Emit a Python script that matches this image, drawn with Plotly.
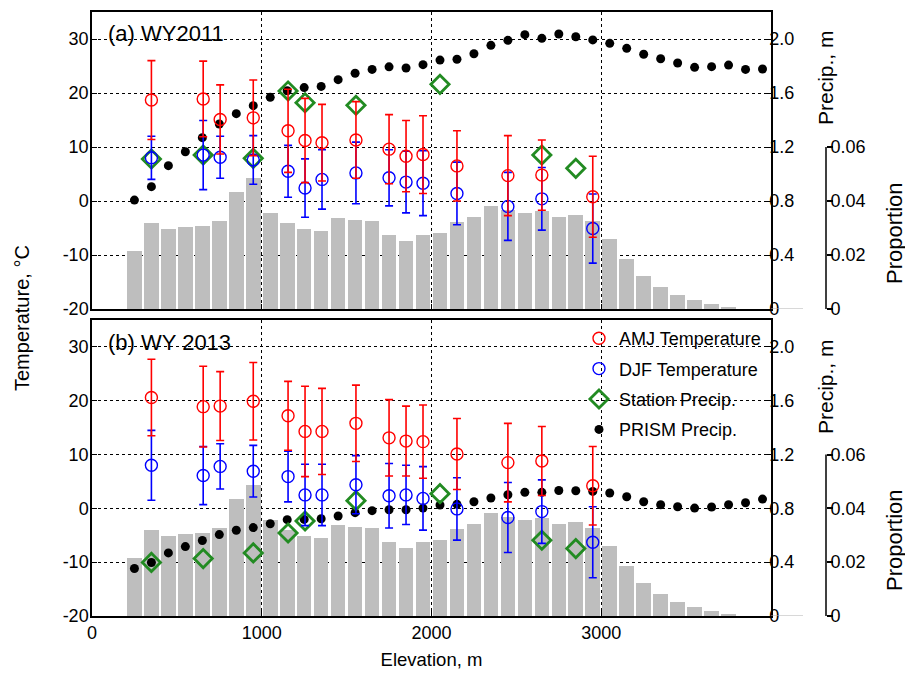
import plotly.graph_objects as go

# ---------------- data ----------------
bin_elev = [250, 350, 450, 550, 650, 750, 850, 950, 1050, 1150, 1250, 1350, 1450, 1550,
            1650, 1750, 1850, 1950, 2050, 2150, 2250, 2350, 2450, 2550, 2650, 2750, 2850,
            2950, 3050, 3150, 3250, 3350, 3450, 3550, 3650, 3750]
proportion = [0.0216, 0.032, 0.0297, 0.0304, 0.0307, 0.0327, 0.0434, 0.0486, 0.0357, 0.032,
              0.0297, 0.029, 0.0338, 0.0331, 0.0327, 0.0274, 0.0253, 0.0274, 0.0283, 0.0322,
              0.0341, 0.0381, 0.0367, 0.0357, 0.0364, 0.0341, 0.0348, 0.0327, 0.026, 0.0186,
              0.0122, 0.0083, 0.0053, 0.0034, 0.002, 0.0009]

prism_elev = [250, 350, 450, 550, 650, 750, 850, 950, 1050, 1150, 1250, 1350, 1450, 1550,
              1650, 1750, 1850, 1950, 2050, 2150, 2250, 2350, 2450, 2550, 2650, 2750, 2850,
              2950, 3050, 3150, 3250, 3350, 3450, 3550, 3650, 3750, 3850, 3950]
prism_2011 = [0.807, 0.906, 1.062, 1.165, 1.269, 1.370, 1.447, 1.506, 1.568, 1.617, 1.640,
              1.649, 1.699, 1.746, 1.775, 1.794, 1.785, 1.810, 1.844, 1.850, 1.891, 1.953,
              1.990, 2.032, 2.005, 2.037, 2.017, 1.993, 1.968, 1.931, 1.887, 1.854, 1.822,
              1.790, 1.795, 1.807, 1.775, 1.778]
prism_2013 = [0.353, 0.398, 0.469, 0.516, 0.561, 0.605, 0.637, 0.657, 0.686, 0.716, 0.718,
              0.723, 0.743, 0.768, 0.783, 0.790, 0.790, 0.802, 0.825, 0.830, 0.849, 0.877,
              0.901, 0.919, 0.919, 0.933, 0.931, 0.926, 0.914, 0.886, 0.849, 0.827, 0.812,
              0.802, 0.810, 0.827, 0.842, 0.869]

station_elev = [350, 655, 950, 1155, 1255, 1555, 2050, 2650, 2850]
station_2011 = [1.111, 1.141, 1.116, 1.615, 1.528, 1.509, 1.664, 1.141, 1.042]
station_2013 = [0.398, 0.427, 0.469, 0.617, 0.706, 0.857, 0.909, 0.563, 0.501]

temp_elev = [350, 655, 755, 950, 1155, 1255, 1355, 1555, 1750, 1850, 1950, 2150, 2450, 2650, 2950]
amj_2011 = [18.7, 18.9, 15.1, 15.4, 13.0, 11.2, 10.8, 11.3, 9.6, 8.3, 8.6, 6.5, 4.7, 4.8, 0.8]
amj_2011_err = [7.3, 7.0, 6.4, 7.0, 7.7, 7.8, 7.1, 7.1, 6.4, 6.6, 7.2, 6.5, 7.4, 6.5, 7.5]
djf_2011 = [8.0, 8.5, 8.1, 7.6, 5.5, 2.4, 4.0, 5.2, 4.3, 3.5, 3.3, 1.4, -1.0, 0.4, -5.1]
djf_2011_err = [4.0, 6.4, 3.9, 4.5, 4.8, 5.4, 5.5, 5.7, 5.2, 5.7, 6.0, 5.8, 6.3, 5.8, 6.4]
amj_2013 = [20.6, 18.9, 19.0, 19.9, 17.2, 14.3, 14.3, 15.8, 13.1, 12.5, 12.4, 10.1, 8.5, 8.8, 4.2]
amj_2013_err = [7.1, 7.5, 6.4, 7.2, 6.4, 8.4, 8.0, 7.1, 7.1, 6.5, 6.8, 6.6, 7.3, 6.4, 7.3]
djf_2013 = [8.0, 6.1, 7.8, 6.9, 5.9, 2.5, 2.5, 4.4, 2.35, 2.5, 1.85, -0.1, -1.7, -0.6, -6.3]
djf_2013_err = [6.5, 5.4, 4.2, 4.8, 4.7, 5.7, 5.7, 5.4, 6.0, 5.5, 5.9, 5.8, 6.5, 5.9, 6.6]

temp_ticks = [-20, -10, 0, 10, 20, 30]
temp_ticktext = ["-20", "-10", "0", "10", "20", "30"]
precip_ticks = [0, 0.4, 0.8, 1.2, 1.6, 2.0]
precip_ticktext = ["0", "0.4", "0.8", "1.2", "1.6", "2.0"]
prop_ticks = [0, 0.02, 0.04, 0.06]
prop_ticktext = ["0", "0.02", "0.04", "0.06"]
elev_ticks = [0, 1000, 2000, 3000]
panel_labels = ["(a) WY2011", "(b) WY 2013"]

# ---------------- style ----------------
FONT = "Liberation Sans, Arial, sans-serif"
RED, BLUE, GREEN, GRAY = "#ff0000", "#0000ff", "#228b22", "#bebebe"
OFF = 8                      # page body margin
W, H = 913 - OFF, 673 - OFF
ML = 92 - OFF
MT = 12 - OFF
MR = W - (771 - OFF)
MB = H - (616 - OFF)
PH = H - MT - MB
PW = W - ML - MR

def py(px):  # reference-page pixel y -> paper
    return (H - MB - (px - OFF)) / PH

def pxx(px):  # reference-page pixel x -> paper
    return ((px - OFF) - ML) / PW

top_dom = [py(309), 1.0]
bot_dom = [0.0, py(320)]

fig = go.Figure()

panels = [
    dict(x="x2", yp="y", ypr="y2", yt="y3", prism=prism_2011, st=station_2011,
         amj=amj_2011, amje=amj_2011_err, djf=djf_2011, djfe=djf_2011_err, legend=False),
    dict(x="x", yp="y4", ypr="y5", yt="y6", prism=prism_2013, st=station_2013,
         amj=amj_2013, amje=amj_2013_err, djf=djf_2013, djfe=djf_2013_err, legend=True),
]

for p in panels:
    fig.add_trace(go.Bar(x=bin_elev, y=proportion, width=86, marker=dict(color=GRAY, line=dict(width=0)),
                         xaxis=p["x"], yaxis=p["yp"], showlegend=False))
    fig.add_trace(go.Scatter(x=prism_elev, y=p["prism"], mode="markers", name="PRISM Precip.",
                             marker=dict(symbol="circle", size=9, color="black"),
                             xaxis=p["x"], yaxis=p["ypr"], showlegend=p["legend"],
                             legendgroup="d", legendrank=4))
    fig.add_trace(go.Scatter(x=station_elev, y=p["st"], mode="markers", name="Station Precip.",
                             marker=dict(symbol="diamond-open", size=14, color=GREEN, line=dict(width=2.8)),
                             xaxis=p["x"], yaxis=p["ypr"], showlegend=p["legend"],
                             legendgroup="c", legendrank=3))
    fig.add_trace(go.Scatter(x=temp_elev, y=p["djf"], mode="markers", name="DJF Temperature",
                             marker=dict(symbol="circle-open", size=12, color=BLUE, line=dict(width=1.4)),
                             error_y=dict(type="data", array=p["djfe"], color=BLUE, thickness=1.6, width=4),
                             xaxis=p["x"], yaxis=p["yt"], showlegend=p["legend"],
                             legendgroup="b", legendrank=2))
    fig.add_trace(go.Scatter(x=temp_elev, y=p["amj"], mode="markers", name="AMJ Temperature",
                             marker=dict(symbol="circle-open", size=12, color=RED, line=dict(width=1.4)),
                             error_y=dict(type="data", array=p["amje"], color=RED, thickness=1.6, width=4),
                             xaxis=p["x"], yaxis=p["yt"], showlegend=p["legend"],
                             legendgroup="a", legendrank=1))

tickfont = dict(family=FONT, size=18, color="black")
grid = dict(showgrid=True, gridcolor="black", gridwidth=1, griddash="dot")

xcommon = dict(range=[0, 4000], tickvals=elev_ticks, ticks="inside", ticklen=5, tickcolor="black",
               showline=True, linecolor="black", linewidth=1.5, mirror=True, zeroline=False,
               tickfont=tickfont, **grid)

def temp_axis(over, anchor):
    return dict(overlaying=over, anchor=anchor, side="left", range=[-20, 35], tickvals=temp_ticks,
                ticktext=temp_ticktext, ticks="inside", ticklen=5, tickcolor="black", showline=True,
                linecolor="black", linewidth=1.5, zeroline=False, tickfont=tickfont,
                ticklabelstandoff=-2, **grid)

def precip_axis(over, anchor):
    return dict(overlaying=over, anchor=anchor, side="right", range=[0, 2.2], tickvals=precip_ticks,
                ticktext=precip_ticktext, ticks="inside", ticklen=6, tickcolor="black", showline=True,
                linecolor="black", linewidth=1.5, zeroline=False, showgrid=False, tickfont=tickfont,
                ticklabelstandoff=-7)

def prop_axis(domain):
    return dict(domain=domain, anchor="free", position=1.0, shift=55, side="right", range=[0, 0.11],
                tickvals=prop_ticks, ticktext=prop_ticktext, ticks="outside", ticklen=6,
                tickcolor="black", tickwidth=1.5, showline=False, showgrid=False, zeroline=False,
                tickfont=tickfont, automargin=False, ticklabelstandoff=-6)

fig.update_layout(
    width=W, height=H,
    margin=dict(l=ML, r=MR, t=MT, b=MB, autoexpand=False),
    paper_bgcolor="white", plot_bgcolor="rgba(0,0,0,0)",
    font=dict(family=FONT, size=18, color="black"),
    bargap=0,
    xaxis=dict(anchor="y4", title=dict(text="Elevation, m", font=dict(family=FONT, size=18.5), standoff=11),
               **xcommon),
    xaxis2=dict(anchor="y", matches="x", showticklabels=False, **xcommon),
    yaxis=prop_axis(top_dom),
    yaxis2=precip_axis("y", "x2"),
    yaxis3=temp_axis("y", "x2"),
    yaxis4=prop_axis(bot_dom),
    yaxis5=precip_axis("y4", "x"),
    yaxis6=temp_axis("y4", "x"),
    showlegend=True,
    legend=dict(x=pxx(579), y=py(320), xanchor="left", yanchor="top", bgcolor="rgba(0,0,0,0)",
                font=dict(family=FONT, size=18, color="black"), traceorder="grouped",
                tracegroupgap=4, itemwidth=30),
)

shapes = []
annotations = []
for yref in ["y", "y4"]:
    shapes.append(dict(type="line", xref="paper", yref=yref, x0=pxx(826), x1=pxx(826),
                       y0=prop_ticks[0], y1=prop_ticks[-1], line=dict(color="black", width=1.5)))
    shapes.append(dict(type="line", xref="paper", yref=yref, x0=1.0, x1=pxx(803),
                       y0=0, y1=0, line=dict(color="#b0b0b0", width=1)))

annotations.append(dict(text="Temperature, °C", xref="paper", yref="paper", x=pxx(22), y=py(318),
                        xanchor="center", yanchor="middle", textangle=-90, showarrow=False,
                        font=dict(family=FONT, size=20)))
for label, yt, ypre, yprop in [(panel_labels[0], 33, 78, 233), (panel_labels[1], 342, 387, 540)]:
    annotations.append(dict(text=label, xref="paper", yref="paper", x=pxx(106), y=py(yt),
                            xanchor="left", yanchor="middle", showarrow=False,
                            font=dict(family=FONT, size=22)))
    annotations.append(dict(text="Precip., m", xref="paper", yref="paper", x=pxx(825), y=py(ypre),
                            xanchor="center", yanchor="middle", textangle=-90, showarrow=False,
                            font=dict(family=FONT, size=21)))
    annotations.append(dict(text="Proportion", xref="paper", yref="paper", x=pxx(894), y=py(yprop),
                            xanchor="center", yanchor="middle", textangle=-90, showarrow=False,
                            font=dict(family=FONT, size=22)))

fig.update_layout(shapes=shapes, annotations=annotations)
fig.write_html("out.html")
